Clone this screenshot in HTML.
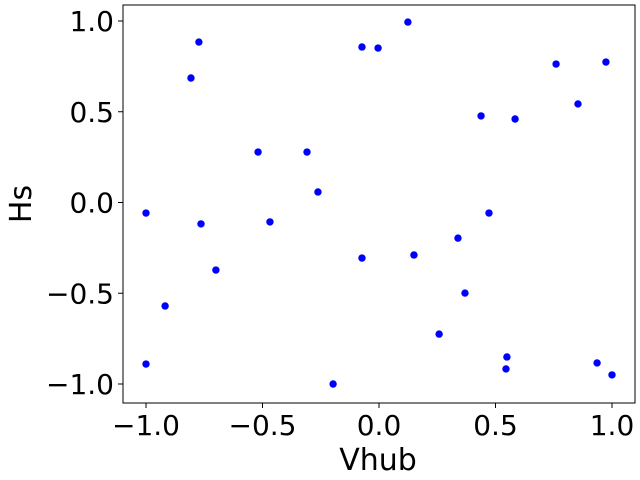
<!DOCTYPE html>
<html><head><meta charset="utf-8"><style>body{margin:0;background:#fff}svg{display:block;font-family:"DejaVu Sans",sans-serif}</style></head>
<body>
<svg id="c" width="640" height="480"></svg>
<script>
const xs=[-1.0,-1.0,-0.918,-0.807,-0.773,-0.764,-0.700,-0.519,-0.468,-0.309,-0.262,-0.197,-0.073,-0.073,-0.004,0.124,0.150,0.258,0.339,0.369,0.438,0.472,0.584,0.549,0.545,0.760,0.854,0.936,0.974,1.0];
const ys=[-0.058,-0.89,-0.57,0.686,0.884,-0.118,-0.372,0.278,-0.107,0.278,0.058,-1.0,0.857,-0.306,0.851,0.994,-0.289,-0.725,-0.196,-0.499,0.477,-0.058,0.460,-0.851,-0.917,0.763,0.543,-0.884,0.774,-0.950];
const xTicks=[-1.0,-0.5,0.0,0.5,1.0];
const yTicks=[-1.0,-0.5,0.0,0.5,1.0];
const xLabels=["\u22121.0","\u22120.5","0.0","0.5","1.0"];
const yLabels=["\u22121.0","\u22120.5","0.0","0.5","1.0"];
const L=123,R=635,T=5,B=403;
const X=v=>379+v*233, Y=v=>202.5-v*181.5;
const s=document.getElementById('c'),NS="http://www.w3.org/2000/svg";
function mk(t,a,txt){const e=document.createElementNS(NS,t);for(const k in a)e.setAttribute(k,a[k]);if(txt!=null)e.textContent=txt;s.appendChild(e);return e;}
xs.forEach((x,i)=>{const e=mk('circle',{cx:X(x),cy:Y(ys[i]),r:3.7,fill:'#0000ff'});

});
xTicks.forEach((t,i)=>{mk('line',{x1:X(t),x2:X(t),y1:B,y2:B+5,stroke:'#000','stroke-width':1});
const e=mk('text',{x:X(t),y:435,'text-anchor':'middle','font-size':28},xLabels[i]);

});
yTicks.forEach((t,i)=>{mk('line',{x1:L-5,x2:L,y1:Y(t),y2:Y(t),stroke:'#000','stroke-width':1});
const e=mk('text',{x:L-9,y:Y(t)+10,'text-anchor':'end','font-size':28},yLabels[i]);

});
const f=mk('rect',{x:L,y:T,width:R-L,height:B-T,fill:'none',stroke:'#000','stroke-width':1});


const xt=mk('text',{x:378,y:470,'text-anchor':'middle','font-size':30},'Vhub');


const yt=mk('text',{x:0,y:0,'text-anchor':'middle','font-size':30,transform:'translate(31,204) rotate(-90)'},'Hs');


</script>
</body></html>
